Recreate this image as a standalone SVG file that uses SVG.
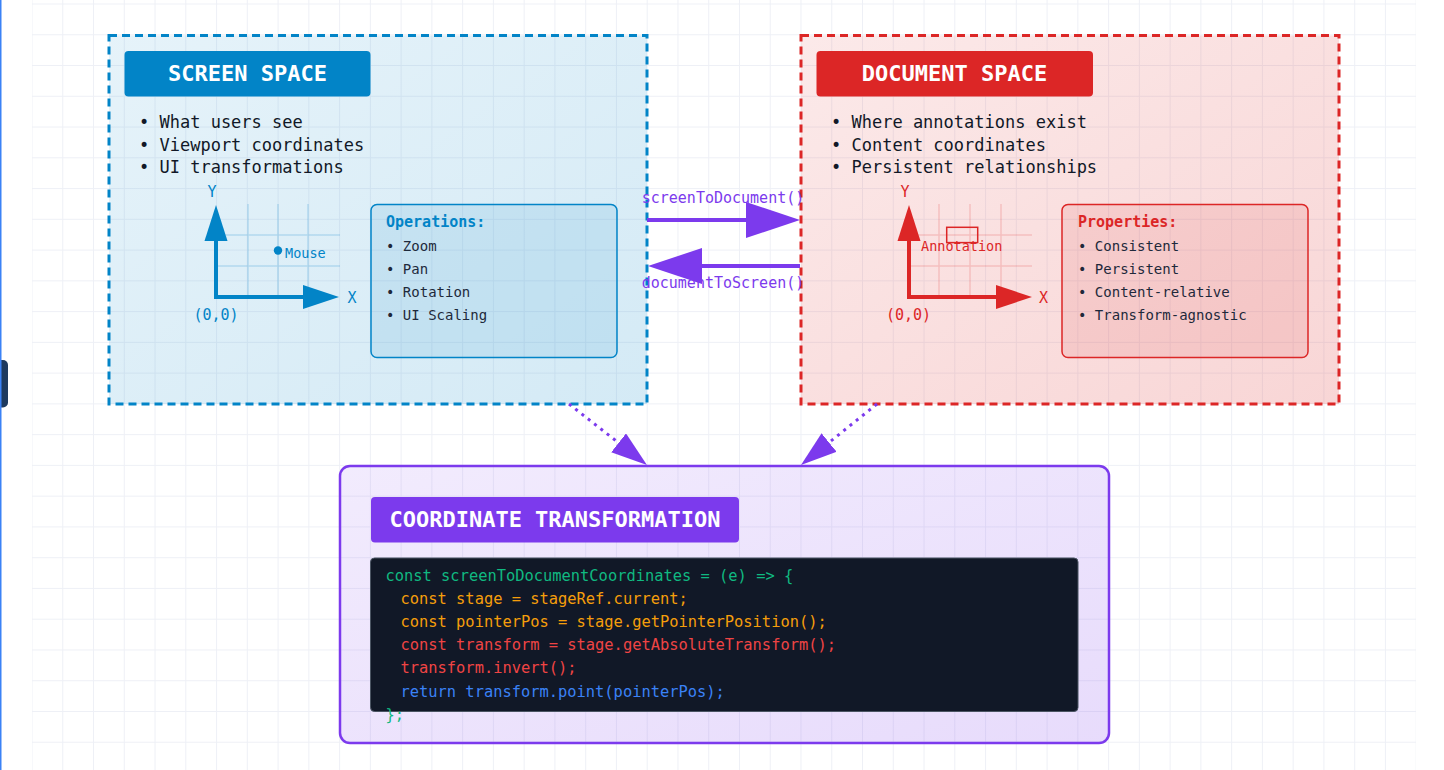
<svg xmlns="http://www.w3.org/2000/svg" width="1444" height="770" viewBox="0 0 1444 770">
  <defs>
    <pattern id="grid" x="31.5" y="3.5" width="30.76" height="30.76" patternUnits="userSpaceOnUse">
      <path d="M0.5,0 V30.76 M0,0.5 H30.76" fill="none" stroke="#eef0f6" stroke-width="1"/>
    </pattern>
    <linearGradient id="gBlue" x1="0" y1="0" x2="1" y2="1">
      <stop offset="0" stop-color="#0284c7" stop-opacity="0.1"/>
      <stop offset="1" stop-color="#0284c7" stop-opacity="0.17"/>
    </linearGradient>
    <linearGradient id="gRed" x1="0" y1="0" x2="1" y2="1">
      <stop offset="0" stop-color="#dc2626" stop-opacity="0.1"/>
      <stop offset="1" stop-color="#dc2626" stop-opacity="0.19"/>
    </linearGradient>
    <linearGradient id="gPurple" x1="0" y1="0" x2="1" y2="1">
      <stop offset="0" stop-color="#7c3aed" stop-opacity="0.1"/>
      <stop offset="1" stop-color="#7c3aed" stop-opacity="0.18"/>
    </linearGradient>
    <marker id="arrowBig" markerUnits="userSpaceOnUse" markerWidth="54" markerHeight="36" refX="24" refY="18" orient="auto">
      <path d="M0,0 L54,18 L0,36 Z" fill="#7c3aed"/>
    </marker>
    <marker id="arrowSmall" markerUnits="userSpaceOnUse" markerWidth="36" markerHeight="24" refX="16" refY="12" orient="auto">
      <path d="M0,0 L36,12 L0,24 Z" fill="#7c3aed"/>
    </marker>
    <style>
      text { font-family: "DejaVu Sans Mono", "Liberation Mono", monospace; }
      .title { font-size: 22px; font-weight: bold; fill: #ffffff; text-anchor: middle; }
      .bullet { font-size: 17px; fill: #111827; }
      .item { font-size: 14px; fill: #1e293b; }
      .head { font-size: 15px; font-weight: bold; }
      .code { font-size: 15.4px; }
      .lbl { font-size: 15px; }
      .small { font-size: 13.5px; }
      .blue { fill: #0284c7; }
      .red { fill: #dc2626; }
      .conn { fill: none; stroke: #7c3aed; }
      .gridB { stroke: #0284c7; stroke-opacity: 0.2; stroke-width: 1.5; fill: none; }
      .gridR { stroke: #dc2626; stroke-opacity: 0.18; stroke-width: 1.5; fill: none; }
    </style>
  </defs>

  <!-- background -->
  <rect x="0" y="0" width="1444" height="770" fill="#ffffff"/>
  <rect x="32" y="0" width="1384" height="770" fill="url(#grid)"/>
  <path d="M0,360 H3 A5,5 0 0 1 8,365 V402.5 A5,5 0 0 1 3,407.5 H0 Z" fill="#1e3a5f"/>
  <rect x="0" y="0" width="1.5" height="770" fill="#3b82f6"/>

  <!-- Screen space -->
  <g id="screen-space">
    <rect x="109" y="35.5" width="538" height="368.5" fill="url(#gBlue)" stroke="#0284c7" stroke-width="3" stroke-dasharray="8,5"/>
    <rect x="124.5" y="51" width="246" height="45.5" rx="4" fill="#0284c7"/>
    <text class="title" x="247.5" y="81">SCREEN SPACE</text>
    <text class="bullet" x="139" y="128">• What users see</text>
    <text class="bullet" x="139" y="150.7">• Viewport coordinates</text>
    <text class="bullet" x="139" y="173.4">• UI transformations</text>
    <g id="screen-axes">
      <path class="gridB" d="M248,204 V297 M278,204 V297 M308,204 V297 M216,235 H340 M216,266 H340"/>
      <path d="M216,239 V297 H305" fill="none" stroke="#0284c7" stroke-width="4" stroke-linejoin="miter"/>
      <polygon points="216,205 204.5,241 227.5,241" fill="#0284c7"/>
      <polygon points="339,297 303,285 303,309" fill="#0284c7"/>
      <circle cx="278" cy="250.5" r="4.2" fill="#0284c7"/>
      <text class="small blue" x="285" y="257.5">Mouse</text>
      <text class="lbl blue" x="212" y="196.5" text-anchor="middle">Y</text>
      <text class="lbl blue" x="352" y="303" text-anchor="middle">X</text>
      <text class="lbl blue" x="216" y="320" text-anchor="middle">(0,0)</text>
    </g>
    <g id="operations">
      <rect x="371" y="204.5" width="246" height="153" rx="6" fill="#0284c7" fill-opacity="0.1" stroke="#0284c7" stroke-width="1.5"/>
      <text class="head blue" x="386" y="227">Operations:</text>
      <text class="item" x="386" y="250.5">• Zoom</text>
      <text class="item" x="386" y="273.5">• Pan</text>
      <text class="item" x="386" y="296.5">• Rotation</text>
      <text class="item" x="386" y="319.5">• UI Scaling</text>
    </g>
  </g>

  <!-- Document space -->
  <g id="document-space">
    <rect x="801" y="35.5" width="538" height="368.5" fill="url(#gRed)" stroke="#dc2626" stroke-width="3" stroke-dasharray="8,5"/>
    <rect x="816.5" y="51" width="276.5" height="45.5" rx="4" fill="#dc2626"/>
    <text class="title" x="954.5" y="81">DOCUMENT SPACE</text>
    <text class="bullet" x="831" y="128">• Where annotations exist</text>
    <text class="bullet" x="831" y="150.7">• Content coordinates</text>
    <text class="bullet" x="831" y="173.4">• Persistent relationships</text>
    <g id="document-axes">
      <path class="gridR" d="M939,204 V297 M970,204 V297 M1001,204 V297 M909,235 H1032 M909,266 H1032"/>
      <path d="M909,239 V297 H998" fill="none" stroke="#dc2626" stroke-width="4" stroke-linejoin="miter"/>
      <polygon points="909,205 897.5,241 920.5,241" fill="#dc2626"/>
      <polygon points="1032,297 996,285 996,309" fill="#dc2626"/>
      <rect x="946.7" y="227.3" width="31" height="15.3" fill="none" stroke="#dc2626" stroke-width="1.5"/>
      <text class="small red" x="921" y="251">Annotation</text>
      <text class="lbl red" x="905" y="196.5" text-anchor="middle">Y</text>
      <text class="lbl red" x="1043.5" y="303" text-anchor="middle">X</text>
      <text class="lbl red" x="908.5" y="320" text-anchor="middle">(0,0)</text>
    </g>
    <g id="properties">
      <rect x="1062" y="204.5" width="246" height="153" rx="6" fill="#dc2626" fill-opacity="0.1" stroke="#dc2626" stroke-width="1.5"/>
      <text class="head red" x="1078" y="227">Properties:</text>
      <text class="item" x="1078" y="250.5">• Consistent</text>
      <text class="item" x="1078" y="273.5">• Persistent</text>
      <text class="item" x="1078" y="296.5">• Content-relative</text>
      <text class="item" x="1078" y="319.5">• Transform-agnostic</text>
    </g>
  </g>

  <!-- Coordinate transformation -->
  <g id="coordinate-transformation">
    <rect x="340" y="466" width="769" height="277" rx="10" fill="url(#gPurple)" stroke="#7c3aed" stroke-width="2.5"/>
    <rect x="371" y="497" width="368" height="45.5" rx="4" fill="#7c3aed"/>
    <text class="title" x="555" y="527">COORDINATE TRANSFORMATION</text>
    <rect x="370.5" y="558" width="707.5" height="153.5" rx="4" fill="#111827" stroke="#4b5563" stroke-width="1"/>
    <text class="code" x="385.5" y="580.7" fill="#10b981">const screenToDocumentCoordinates = (e) =&gt; {</text>
    <text class="code" x="400.5" y="603.9" fill="#f59e0b">const stage = stageRef.current;</text>
    <text class="code" x="400.5" y="627" fill="#f59e0b">const pointerPos = stage.getPointerPosition();</text>
    <text class="code" x="400.5" y="650.2" fill="#ef4444">const transform = stage.getAbsoluteTransform();</text>
    <text class="code" x="400.5" y="673.3" fill="#ef4444">transform.invert();</text>
    <text class="code" x="400.5" y="696.5" fill="#3b82f6">return transform.point(pointerPos);</text>
    <text class="code" x="385.5" y="719.6" fill="#10b981">};</text>
  </g>

  <!-- Connectors -->
  <g id="connectors">
    <path class="conn" d="M647,220 H770" stroke-width="4" marker-end="url(#arrowBig)"/>
    <path class="conn" d="M800,266 H678" stroke-width="4" marker-end="url(#arrowBig)"/>
    <text class="lbl" x="723" y="202.5" text-anchor="middle" fill="#7c3aed">screenToDocument()</text>
    <text class="lbl" x="723" y="288" text-anchor="middle" fill="#7c3aed">documentToScreen()</text>
    <path class="conn" d="M569,404 L631.2,452.7" stroke-width="3" stroke-dasharray="3,5" marker-end="url(#arrowSmall)"/>
    <path class="conn" d="M877,404 L816.6,452.5" stroke-width="3" stroke-dasharray="3,5" marker-end="url(#arrowSmall)"/>
  </g>
</svg>
